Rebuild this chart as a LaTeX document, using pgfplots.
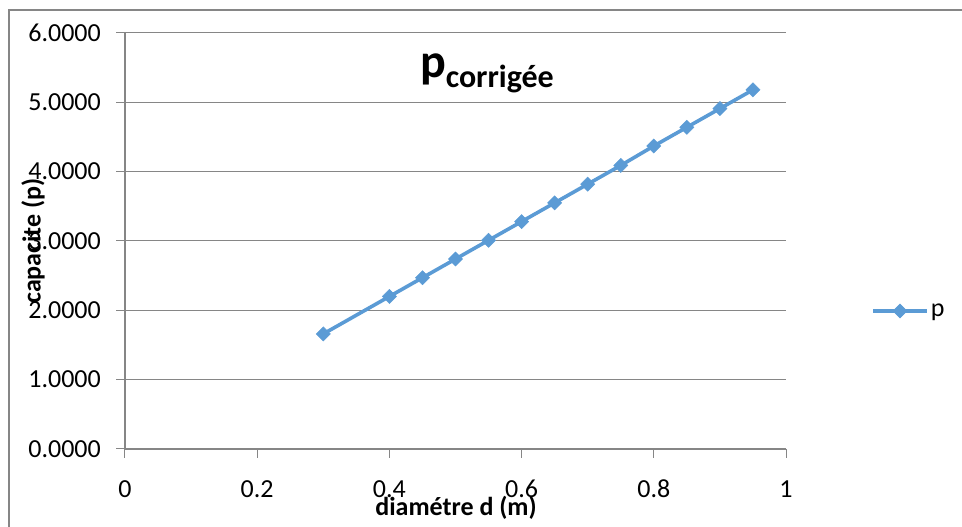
\documentclass[border=0pt]{standalone}
\usepackage{fontspec}
\setmainfont{Carlito}
\usepackage{pgfplots}
\pgfplotsset{compat=1.18}

\definecolor{serieblue}{RGB}{91,155,213}
\definecolor{gridgray}{RGB}{134,134,134}

\begin{document}
\begin{tikzpicture}[x=1pt,y=1pt]
\useasboundingbox (0,0) rectangle (962,527);
% outer chart frame
\draw[gridgray, line width=1.5pt] (9,-40) -- (9,517) -- (1000,517);
\begin{axis}[
  at={(125pt,78pt)}, anchor=south west,
  scale only axis, width=661pt, height=416pt,
  xmin=0, xmax=1, ymin=0, ymax=6,
  xtick={0,0.2,0.4,0.6,0.8,1}, ytick={0,1,2,3,4,5,6},
  axis x line*=bottom, axis y line*=left,
  axis line style={-, draw=gridgray, line width=1.2pt},
  ymajorgrids, grid style={gridgray, line width=1pt},
  tick align=outside, major tick length=9pt,
  tick style={gridgray, line width=1pt},
  clip=false,
  ticklabel style={font=\fontsize{26}{30}\selectfont, text=black, inner sep=0pt},
  xticklabel style={anchor=base, yshift=-40pt, /pgf/number format/assume math mode=true},
  yticklabel style={anchor=east, xshift=-15pt, /pgf/number format/.cd, fixed, fixed zerofill, precision=4, assume math mode=true},
  xlabel={diamétre d (m)},
  ylabel={capacite (p)},
  label style={font=\fontsize{26}{30}\selectfont\bfseries},
  xlabel style={at={(rel axis cs:0.5008,-0.1418)}, anchor=center},
  ylabel style={at={(rel axis cs:-0.139,0.5)}, anchor=center},
  legend style={at={(rel axis cs:1.1286,0.3317)}, anchor=west, draw=none, fill=none,
    inner sep=0pt, font=\fontsize{26}{30}\selectfont,
    nodes={inner sep=2pt}},
  legend cell align=left,
  legend image code/.code={%
    \draw[mark repeat=2, mark phase=2, #1] plot coordinates {(0pt,0pt) (27pt,0pt) (54pt,0pt)};
  },
]
\addplot[serieblue, line width=3.6pt, mark=square*, mark size=5pt,
  mark options={rotate=45, line width=0.5pt, fill=serieblue, draw=serieblue}]
  coordinates {
  (0.30,1.66) (0.40,2.20) (0.45,2.47) (0.50,2.74) (0.55,3.01) (0.60,3.28)
  (0.65,3.55) (0.70,3.82) (0.75,4.09) (0.80,4.37) (0.85,4.64) (0.90,4.91)
  (0.95,5.18)
  };
\addlegendentry{p}
\node[anchor=base west, inner sep=0pt] at (rel axis cs:0.446,0.8942)
  {\fontsize{48}{54}\selectfont\bfseries p\raisebox{-10pt}{\fontsize{32}{36}\selectfont\bfseries corrigée}};
\end{axis}
\end{tikzpicture}
\end{document}
